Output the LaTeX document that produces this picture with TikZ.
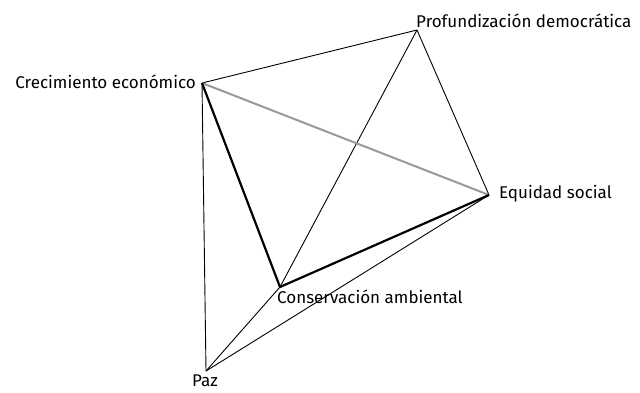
\documentclass[tikz,border=0pt]{standalone}
\usepackage{fontspec}
\setmainfont{Fira Sans}
\usepackage{tikz}
\usetikzlibrary{positioning}

\tikzset{
    thinline/.style={black, line width=0.9pt},
    boldline/.style={black, line width=2.2pt},
    grayline/.style={gray!80, line width=2pt},
    vlabel/.style={font=\fontsize{17}{19}\selectfont, inner sep=1pt}
}

\begin{document}
\begin{tikzpicture}[x=1pt, y=-1pt]
    \useasboundingbox (0,0) rectangle (640,392);

    % vertices
    \coordinate (ce) at (202,83);
    \coordinate (pd) at (417,30);
    \coordinate (es) at (489,195);
    \coordinate (ca) at (280,287);
    \coordinate (paz) at (206,371);

    % labels
    \node[vlabel, anchor=east] (celab) at (197,82) {Crecimiento económico};
    \node[vlabel, anchor=south west] (pdlab) at (415,29) {Profundización democrática};
    \node[vlabel, anchor=west] (eslab) at (498,194) {Equidad social};
    \node[vlabel, anchor=north west] (calab) at (276,289) {Conservación ambiental};
    \node[vlabel, anchor=north] (pazlab) at (205,374) {Paz};

    % thin edges
    \draw[thinline] (ce) -- (pd);
    \draw[thinline] (pd) -- (es);
    \draw[thinline] (pd) -- (ca);
    \draw[thinline] (ce) -- (paz);
    \draw[thinline] (paz) -- (ca);
    \draw[thinline] (paz) -- (es);

    % highlighted edges
    \draw[grayline] (ce) -- (es);
    \draw[boldline, line join=round] (ce) -- (ca) -- (es);
\end{tikzpicture}
\end{document}
